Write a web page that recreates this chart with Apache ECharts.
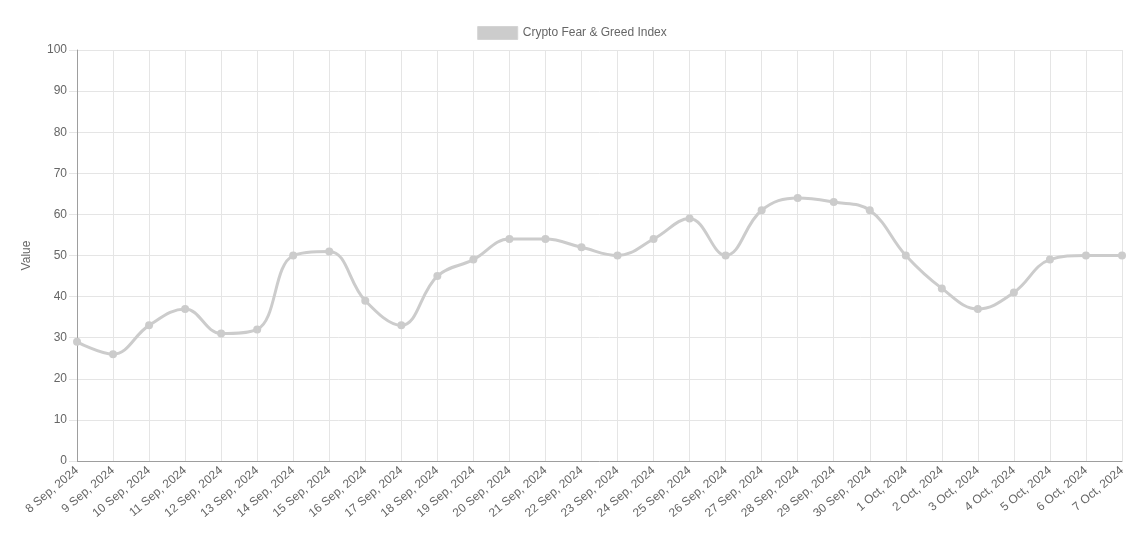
<!DOCTYPE html>
<html>
<head>
<meta charset="utf-8">
<script src="https://cdn.jsdelivr.net/npm/echarts@6/dist/echarts.min.js"></script>
<style>html,body{margin:0;padding:0;background:#fff;}#c{width:1144px;height:534px;}</style>
</head>
<body>
<div id="c"></div>
<script>
const categories = ["8 Sep, 2024","9 Sep, 2024","10 Sep, 2024","11 Sep, 2024","12 Sep, 2024","13 Sep, 2024","14 Sep, 2024","15 Sep, 2024","16 Sep, 2024","17 Sep, 2024","18 Sep, 2024","19 Sep, 2024","20 Sep, 2024","21 Sep, 2024","22 Sep, 2024","23 Sep, 2024","24 Sep, 2024","25 Sep, 2024","26 Sep, 2024","27 Sep, 2024","28 Sep, 2024","29 Sep, 2024","30 Sep, 2024","1 Oct, 2024","2 Oct, 2024","3 Oct, 2024","4 Oct, 2024","5 Oct, 2024","6 Oct, 2024","7 Oct, 2024"];
const values = [29,26,33,37,31,32,50,51,39,33,45,49,54,54,52,50,54,59,50,61,64,63,61,50,42,37,41,49,50,50];
const seriesName = "Crypto Fear & Greed Index";
const yAxisName = "Value";

const chart = echarts.init(document.getElementById('c'), null, {renderer:'canvas'});
const font = "'Liberation Sans', Arial, Helvetica, sans-serif";
chart.setOption({
  animation: false,
  textStyle: {fontFamily: font},
  legend: {
    top: 26, left: 'center',
    itemWidth: 40, itemHeight: 13, itemGap: 10,
    icon: 'rect',
    textStyle: {color: '#666', fontSize: 12, fontFamily: font},
    padding: 0,
    data: [{name: seriesName, itemStyle: {color: 'rgba(204,204,204,1)', borderColor: 'rgba(212,212,212,1)', borderWidth: 1}}]
  },
  grid: {left: 77, right: 22, top: 50, bottom: 73, containLabel: false},
  xAxis: {
    type: 'category', data: categories, boundaryGap: false,
    axisLine: {lineStyle: {color: '#9e9e9e', width: 1}},
    axisTick: {show: false},
    splitLine: {show: true, lineStyle: {color: '#e5e5e5'}},
    axisLabel: {rotate: 40, color: '#666', fontSize: 12, fontFamily: font, interval: 0, margin: 8}
  },
  yAxis: {
    type: 'value', min: 0, max: 100, interval: 10,
    name: yAxisName, nameLocation: 'middle', nameGap: 44, nameRotate: 90,
    nameTextStyle: {color: '#666', fontSize: 12, fontFamily: font},
    axisLine: {show: true, lineStyle: {color: '#9e9e9e'}},
    axisTick: {show: true, length: 8, lineStyle: {color: '#e5e5e5'}},
    splitLine: {show: true, lineStyle: {color: '#e5e5e5'}},
    axisLabel: {color: '#666', fontSize: 12, fontFamily: font, margin: 10}
  },
  series: [{
    name: seriesName, type: 'line', data: values, smooth: 0.4,
    symbol: 'circle', symbolSize: 8, showSymbol: true,
    lineStyle: {color: 'rgba(204,204,204,1)', width: 3},
    itemStyle: {color: 'rgba(204,204,204,1)'}
  }]
});
</script>
</body>
</html>
